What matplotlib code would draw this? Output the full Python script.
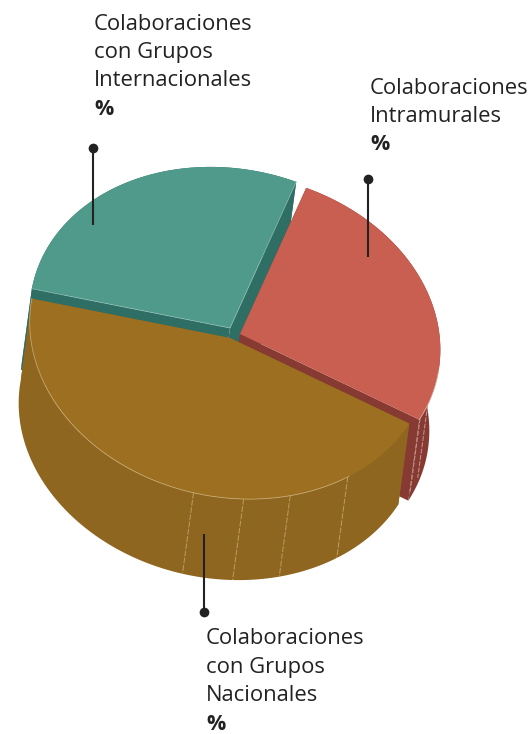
import matplotlib
matplotlib.use('Agg')
import matplotlib.pyplot as plt
import numpy as np

# shares of each slice (brown, teal, red)
names = ['Nacionales', 'Internacionales', 'Intramurales']
shares = [45, 28, 27]
top_colors = ['#9c7020', '#4f9a8b', '#c95f50']
wall_colors = ['#8e661f', '#2f6e64', '#873a32']
label_lines = [['Colaboraciones', 'con Grupos', 'Nacionales', '%'],
               ['Colaboraciones', 'con Grupos', 'Internacionales', '%'],
               ['Colaboraciones', 'Intramurales', '%']]

# thin seams on the walls, as angle on the ellipse
brown_seams = [91, 76.6, 63, 44.5]
red_seams = [16.5, 11]

# picture geometry (pixels)
centers = [(230, 338), (230, 328), (240, 334)]
label_pos = [(206, 639), (94, 24), (370, 88)]
leaders = [((204, 612), (204, 534)), ((93, 148), (93, 225)), ((368, 179), (368, 257))]
A, B = 202, 159
TILT = np.radians(12)
DROP = np.array([-11, 81])
START = 17
LINE_STEP = 28.4

fig = plt.figure(figsize=(5.3, 7.34), dpi=100)
ax = fig.add_axes([0, 0, 1, 1])
ax.set_xlim(0, 530)
ax.set_ylim(734, 0)
ax.axis('off')


def rim(center, t1, t2):
    t = np.radians(np.linspace(t1, t2, 200))
    x = A * np.cos(t)
    y = B * np.sin(t)
    px = center[0] + x * np.cos(TILT) - y * np.sin(TILT)
    py = center[1] + x * np.sin(TILT) + y * np.cos(TILT)
    return np.column_stack([px, py])


def poly(pts, color):
    ax.fill(pts[:, 0], pts[:, 1], color=color, lw=0)


spans = []
t = START
for s in shares:
    spans.append((t, t + s / sum(shares) * 360))
    t = spans[-1][1]

# back slices first, brown one goes over them
for i in [1, 2, 0]:
    t1, t2 = spans[i]
    c = np.array(centers[i], float)
    arc = rim(c, t1, t2)
    poly(np.vstack([arc, arc[::-1] + DROP]), wall_colors[i])
    for end in [arc[0], arc[-1]]:
        poly(np.array([c, end, end + DROP, c + DROP]), wall_colors[i])
    poly(np.vstack([c, arc]), top_colors[i])

    if i == 1:
        ax.plot([c[0], arc[0][0]], [c[1], arc[0][1]], color='#8fbdb3', lw=0.5)
        ax.plot([c[0], arc[-1][0]], [c[1], arc[-1][1]], color='#8fbdb3', lw=0.5)
    if i == 2:
        ax.plot(arc[-40:, 0], arc[-40:, 1], color='#e5b3aa', lw=0.5)
        for s in red_seams:
            p = rim(c, s + 360, s + 360)[0]
            ax.plot([p[0], p[0] + DROP[0] * 0.9], [p[1], p[1] + DROP[1] * 0.9], color='#c49a92', lw=0.7, ls=(0, (5, 1.5)))

c = np.array(centers[0], float)
for s in brown_seams:
    p = rim(c, s, s)[0]
    ax.plot([p[0], p[0] + DROP[0]], [p[1], p[1] + DROP[1]], color='#bd9c63', lw=0.7, ls=(0, (6, 1.5)))

edge = rim(c, 44, spans[0][1])
ax.plot(edge[:, 0], edge[:, 1], color='#c4a46a', lw=0.6)

for p0, p1 in leaders:
    ax.plot([p0[0], p1[0]], [p0[1], p1[1]], color='#222222', lw=1.5, solid_capstyle='butt')
    ax.plot(p0[0], p0[1], 'o', color='#222222', ms=7, mew=0)

for pos, lines in zip(label_pos, label_lines):
    y = pos[1]
    for ln in lines:
        bold = ln == '%'
        ax.text(pos[0], y, ln, family='Open Sans', fontsize=15.8 if not bold else 15.5,
                fontweight='bold' if bold else 'normal', color='#222222', ha='left', va='center')
        y += LINE_STEP

fig.savefig('out.png', dpi=100)
